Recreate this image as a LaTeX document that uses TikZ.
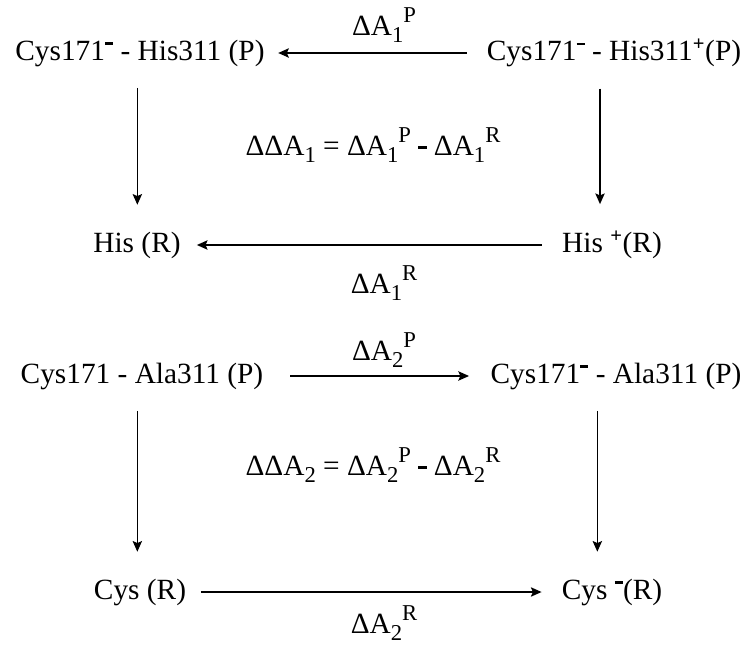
\documentclass[tikz,border=0pt]{standalone}
\usepackage{fontspec}
\setmainfont{Liberation Serif}
\usetikzlibrary{arrows.meta}
\newcommand{\chgminus}{\raisebox{0.52em}{\rule{0.28em}{0.09em}}}
\newcommand{\chgplus}{\textsuperscript{\textbf{+}}}
\newcommand{\eqminus}{\raisebox{0.22em}{\rule{0.28em}{0.1em}}}
\newcommand{\lo}[1]{\raisebox{-0.22em}{\fontsize{17}{17}\selectfont #1}}
\newcommand{\hi}[1]{\raisebox{0.45em}{\fontsize{17}{17}\selectfont #1}}

\begin{document}
\begin{tikzpicture}[x=0.75pt,y=-0.75pt,font=\fontsize{22}{26}\selectfont,
  every node/.style={inner sep=0pt},
  arr/.style={line width=1.2pt,-{Stealth[length=8pt,width=7pt,inset=1.5pt]}}]
  \useasboundingbox (0,0) rectangle (748,645);
  % first cycle: His311
  \node (P1a) at (140,53) {Cys171\chgminus{} - His311 (P)};
  \node (P1b) at (614,53) {Cys171\chgminus{} - His311\chgplus(P)};
  \node (R1a) at (137,245) {His (R)};
  \node (R1b) at (612,245) {His \chgplus(R)};
  \node (L1p) at (384,25) {ΔA\lo{1}\hi{P}};
  \node (L1r) at (384,283) {ΔA\lo{1}\hi{R}};
  \node (D1) at (373,145) {ΔΔA\lo{1} = ΔA\lo{1}\hi{P} \eqminus{} ΔA\lo{1}\hi{R}};
  \draw[arr,shorten <=15pt,shorten >=10pt] (P1b) -- (P1a);
  \draw[arr,shorten <=15pt,shorten >=12pt] (R1b) -- (R1a);
  \draw[arr,shorten <=16pt,shorten >=20pt] ([xshift=-2pt]P1a.south) -- ([xshift=-2pt]P1a.south |- R1a.north);
  \draw[arr,shorten <=16pt,shorten >=20pt] ([xshift=-10.5pt]P1b.south) -- ([xshift=-10.5pt]P1b.south |- R1b.north);
  % second cycle: Ala311
  \node (P2a) at (142,376) {Cys171 - Ala311 (P)};
  \node (P2b) at (616,376) {Cys171\chgminus{} - Ala311 (P)};
  \node (R2a) at (140,592) {Cys (R)};
  \node (R2b) at (612,592) {Cys \chgminus{}(R)};
  \node (L2p) at (384,350) {ΔA\lo{2}\hi{P}};
  \node (L2r) at (384,623) {ΔA\lo{2}\hi{R}};
  \node (D2) at (373,465) {ΔΔA\lo{2} = ΔA\lo{2}\hi{P} \eqminus{} ΔA\lo{2}\hi{R}};
  \draw[arr,shorten <=20pt,shorten >=16pt] (P2a) -- (P2b);
  \draw[arr,shorten <=11pt,shorten >=15pt] (R2a) -- (R2b);
  \draw[arr,shorten <=16pt,shorten >=20pt] ([xshift=-3.5pt]P2a.south) -- ([xshift=-3.5pt]P2a.south |- R2a.north);
  \draw[arr,shorten <=16pt,shorten >=20pt] ([xshift=-14pt]P2b.south) -- ([xshift=-14pt]P2b.south |- R2b.north);
\end{tikzpicture}
\end{document}
